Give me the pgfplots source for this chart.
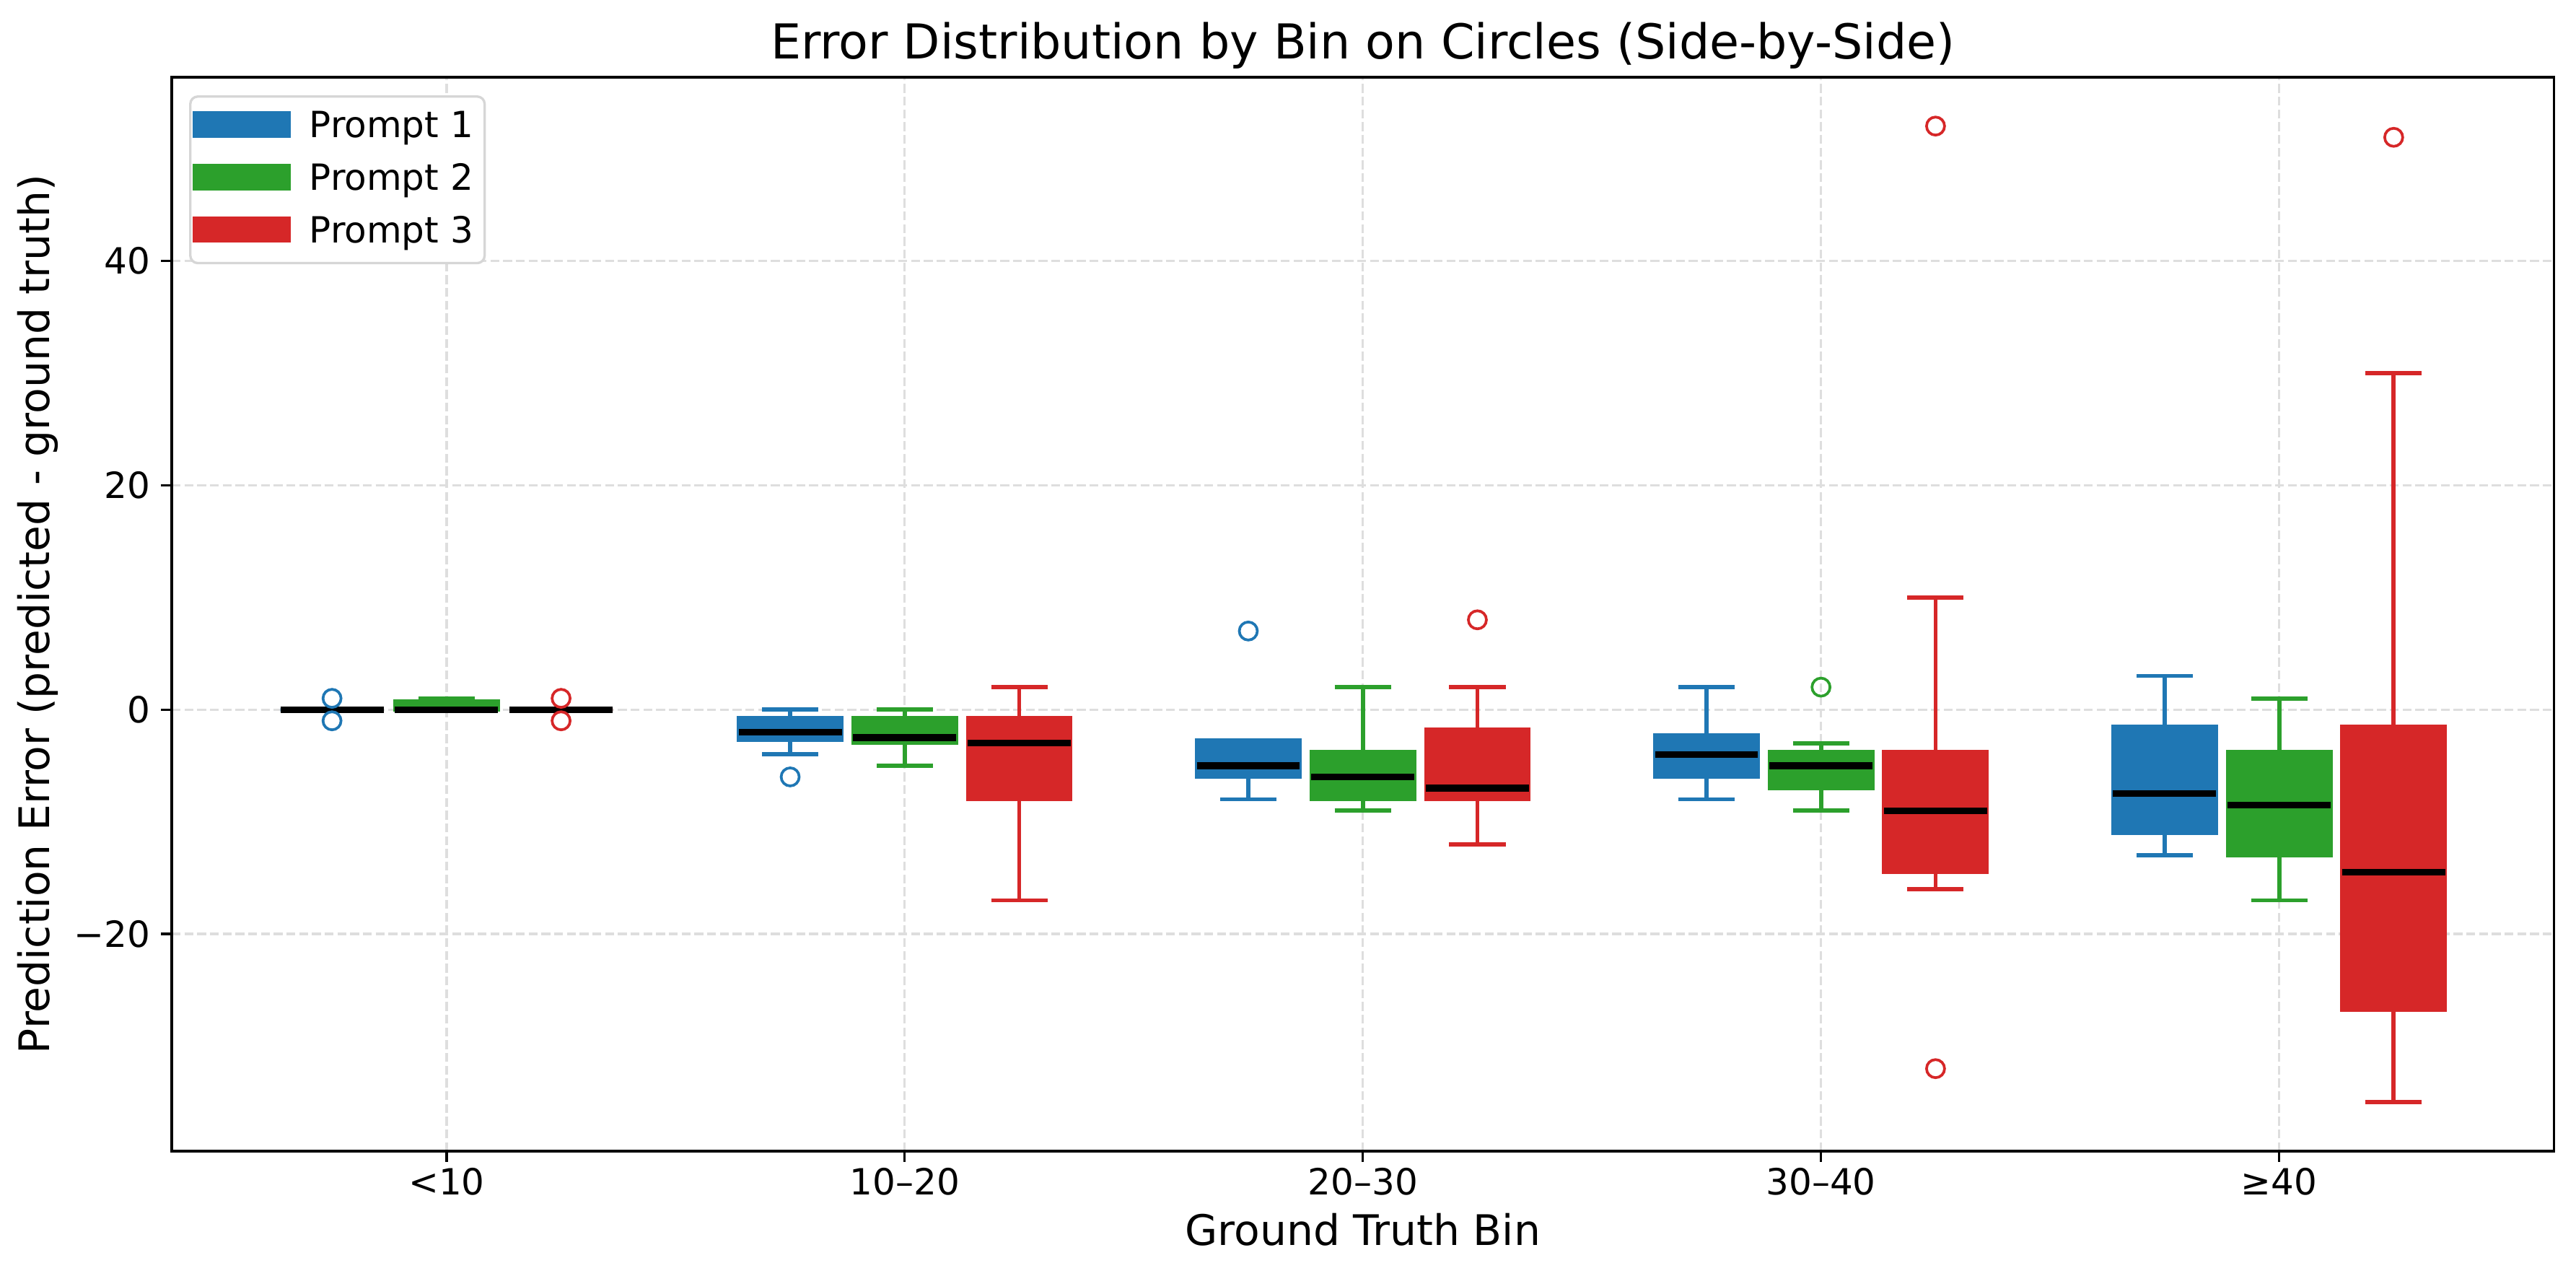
\documentclass[border=0pt]{standalone}
\usepackage{fontspec}
\setmainfont{DejaVu Sans}
\usepackage{pgfplots}
\pgfplotsset{compat=1.18}
\usepgfplotslibrary{statistics}

\definecolor{tabblue}{HTML}{1F77B4}
\definecolor{tabgreen}{HTML}{2CA02C}
\definecolor{tabred}{HTML}{D62728}

% one box: colour, position, lower whisker, q1, median, q3, upper whisker, outliers
\newcommand{\bx}[8]{%
  \addplot[forget plot, draw=#1, line width=1.4pt,
    mark=o, mark size=3pt, mark options={draw=#1, fill=none, line width=0.9pt},
    boxplot/draw direction=y,
    boxplot/every box/.style={draw=#1, fill=#1, line width=1.2pt},
    boxplot/every whisker/.style={draw=#1, line width=1.4pt},
    boxplot/every median/.style={draw=black, line width=2.2pt},
    boxplot prepared={draw direction=y, draw position=#2, lower whisker=#3, lower quartile=#4,
      median=#5, upper quartile=#6, upper whisker=#7,
      box extend=0.225, whisker extend=0.123}]
    table[row sep=\\, y index=0] {v\\ #8};}

\begin{document}
\begin{tikzpicture}
\path[use as bounding box] (-57.1pt,-41.5pt) rectangle (799.7pt,382.8pt);
\begin{axis}[
  scale only axis,
  width=792.4pt, height=357.1pt,
  xmin=-0.6, xmax=4.6,
  ymin=-39.35, ymax=56.35,
  axis line style={line width=0.8pt},
  xtick={0,1,2,3,4},
  xticklabels={<10,10–20,20–30,30–40,≥40},
  ytick={-20,0,20,40},
  yticklabels={−20,0,20,40},
  tick align=outside, tick pos=left,
  major tick length=3.5pt,
  tick style={black, line width=0.8pt},
  grid=major,
  grid style={dash pattern=on 2.96pt off 1.28pt, line width=0.8pt, black!13},
  ticklabel style={font=\fontsize{12}{14}\selectfont},
  xticklabel style={anchor=north, inner sep=0pt, text height=8.75pt, text depth=2.5pt},
  yticklabel style={anchor=east, inner sep=0pt, text height=8.75pt, text depth=0pt},
  xticklabel shift=2pt,
  yticklabel shift=3.5pt,
  every axis title/.style={at={(axis description cs:0.5,1)}, anchor=base, yshift=6.1pt,
    font=\fontsize{16}{19}\selectfont},
  every axis x label/.style={at={(axis description cs:0.5,0)}, anchor=base, yshift=-31.4pt,
    font=\fontsize{14}{17}\selectfont},
  every axis y label/.style={at={(axis description cs:-0.05616,0.5)}, rotate=90, anchor=center,
    font=\fontsize{14}{17}\selectfont},
  title={Error Distribution by Bin on Circles (Side-by-Side)},
  xlabel={Ground Truth Bin},
  ylabel={Prediction Error (predicted - ground truth)},
  legend style={at={(axis description cs:0,1)}, anchor=north west,
    xshift=5.8pt, yshift=-6pt,
    draw=black!16, line width=0.8pt, rounded corners=2.5pt, fill=white,
    inner xsep=0.8pt, inner ysep=2pt, column sep=6.1pt, row sep=1.1pt,
    font=\fontsize{12}{14}\selectfont,
    nodes={inner sep=0pt, text height=11.7pt, text depth=4.7pt, text width=57.5pt, align=left}},
  legend cell align=left,
]
\addlegendimage{legend image code/.code={\fill[tabblue, sharp corners] (0pt,-3.05pt) rectangle (31.9pt,4.85pt);}}
\addlegendentry{Prompt 1}
\addlegendimage{legend image code/.code={\fill[tabgreen, sharp corners] (0pt,-3.05pt) rectangle (31.9pt,4.85pt);}}
\addlegendentry{Prompt 2}
\addlegendimage{legend image code/.code={\fill[tabred, sharp corners] (0pt,-3.05pt) rectangle (31.9pt,4.85pt);}}
\addlegendentry{Prompt 3}

% <10
\bx{tabblue}{-0.25}{0}{0}{0}{0}{0}{1\\ -1\\}
\bx{tabgreen}{0}{0}{0}{0}{0.75}{1}{}
\bx{tabred}{0.25}{0}{0}{0}{0}{0}{1\\ -1\\}
% 10-20
\bx{tabblue}{0.75}{-4}{-2.75}{-2}{-0.75}{0}{-6\\}
\bx{tabgreen}{1}{-5}{-3}{-2.5}{-0.75}{0}{}
\bx{tabred}{1.25}{-17}{-8}{-3}{-0.75}{2}{}
% 20-30
\bx{tabblue}{1.75}{-8}{-6}{-5}{-2.75}{-2.75}{7\\}
\bx{tabgreen}{2}{-9}{-8}{-6}{-3.75}{2}{}
\bx{tabred}{2.25}{-12}{-8}{-7}{-1.75}{2}{8\\}
% 30-40
\bx{tabblue}{2.75}{-8}{-6}{-4}{-2.25}{2}{}
\bx{tabgreen}{3}{-9}{-7}{-5}{-3.75}{-3}{2\\}
\bx{tabred}{3.25}{-16}{-14.5}{-9}{-3.75}{10}{52\\ -32\\}
% >=40
\bx{tabblue}{3.75}{-13}{-11}{-7.5}{-1.5}{3}{}
\bx{tabgreen}{4}{-17}{-13}{-8.5}{-3.75}{1}{}
\bx{tabred}{4.25}{-35}{-26.75}{-14.5}{-1.5}{30}{51\\}
\end{axis}
\end{tikzpicture}
\end{document}
